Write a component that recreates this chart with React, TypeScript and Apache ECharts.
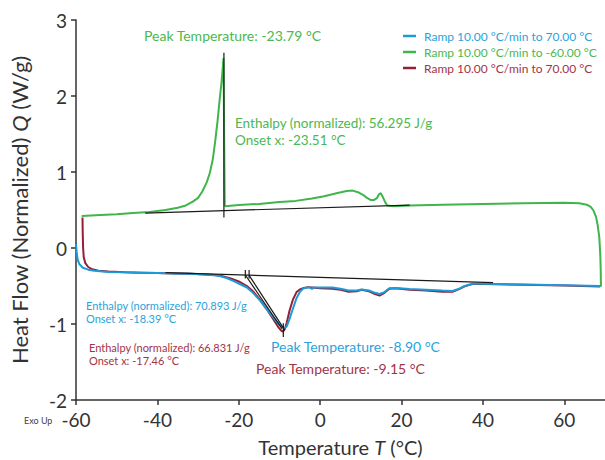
import React, { useEffect, useRef } from "react";
import * as echarts from "echarts";

const FONT = "Lato, 'Noto Sans', sans-serif";

// Series names / legend labels
const seriesLabels = [
  "Ramp 10.00 °C/min to 70.00 °C",
  "Ramp 10.00 °C/min to -60.00 °C",
  "Ramp 10.00 °C/min to 70.00 °C",
];
const seriesIds = ["heat1", "cool", "heat2"];

const xTicks = [-60, -40, -20, 0, 20, 40, 60];
const yTicks = [-2, -1, 0, 1, 2, 3];

// First heating ramp (blue): [T °C, Q W/g]
const heat1: [number, number][] = [
  [-60, 0.05], [-59.85, -0.05], [-59.6, -0.15], [-59.2, -0.21], [-58.3, -0.26],
  [-57, -0.285], [-55.5, -0.3], [-52, -0.315], [-48, -0.32], [-44, -0.325],
  [-40, -0.33], [-36, -0.335], [-32, -0.34], [-29, -0.35], [-26, -0.36],
  [-24.7, -0.37], [-23, -0.395], [-21.5, -0.43], [-19.5, -0.48], [-18, -0.52],
  [-16.5, -0.59], [-14.8, -0.69], [-13.2, -0.8], [-11.6, -0.91], [-10.2, -1.0],
  [-9.2, -1.045], [-8.7, -1.055], [-8.2, -1.03], [-7.5, -0.93], [-6.7, -0.8],
  [-5.8, -0.66], [-5, -0.58], [-4.2, -0.535], [-3.3, -0.52], [-2.5, -0.52],
  [-2.0, -0.54], [-1.6, -0.52], [0, -0.52], [3, -0.52], [5, -0.535], [7, -0.56],
  [9, -0.56], [10.2, -0.545], [12, -0.56], [13.5, -0.59], [14.6, -0.605],
  [15.8, -0.58], [17, -0.53], [18.5, -0.525], [22, -0.54], [26, -0.55],
  [30, -0.56], [32.5, -0.565], [34, -0.54], [35.5, -0.5], [37.4, -0.47],
  [40, -0.47], [50, -0.48], [60, -0.49], [68.8, -0.5],
];

// Cooling ramp (green)
const cool: [number, number][] = [
  [69.0, -0.51], [68.95, -0.3], [68.85, -0.1], [68.6, 0.14], [68.2, 0.3],
  [67.8, 0.41], [67.2, 0.49], [66.5, 0.54], [65.5, 0.57], [63.7, 0.59],
  [60, 0.595], [50, 0.59], [40, 0.58], [30, 0.57], [22, 0.56], [18, 0.55],
  [16.5, 0.56], [16.0, 0.6], [15.5, 0.66], [14.9, 0.72], [14.5, 0.71],
  [14.0, 0.66], [13.2, 0.63], [12.5, 0.63], [11.5, 0.66], [10.5, 0.7],
  [9.5, 0.73], [8, 0.755], [6.5, 0.75], [4, 0.72], [1, 0.68], [-2, 0.65],
  [-6, 0.62], [-10, 0.605], [-15, 0.58], [-20, 0.565], [-23.3, 0.55],
  [-23.45, 0.56], [-23.6, 1.5], [-23.75, 2.5], [-24.2, 2.2], [-24.7, 1.95],
  [-25.2, 1.68], [-25.8, 1.4], [-26.4, 1.16], [-27.1, 0.99], [-27.9, 0.86],
  [-29, 0.74], [-30, 0.66], [-31.3, 0.61], [-33, 0.56], [-35, 0.53],
  [-38, 0.5], [-42, 0.475], [-46, 0.46], [-50, 0.445], [-54, 0.435],
  [-58.6, 0.42],
];

// Second heating ramp (dark red)
const heat2: [number, number][] = [
  [-58.4, 0.4], [-58.35, 0.2], [-58.25, 0.0], [-58.1, -0.12], [-57.7, -0.2],
  [-57, -0.25], [-56, -0.28], [-54.5, -0.3], [-52, -0.31], [-48, -0.32],
  [-44, -0.325], [-40, -0.33], [-36, -0.335], [-32, -0.34], [-29, -0.345],
  [-26, -0.355], [-24, -0.37], [-22, -0.4], [-20, -0.44], [-18, -0.5],
  [-16.5, -0.57], [-14.8, -0.68], [-13.2, -0.8], [-11.6, -0.93], [-10.3, -1.04],
  [-9.5, -1.09], [-9.15, -1.1], [-8.7, -1.07], [-8.2, -0.98], [-7.5, -0.82],
  [-6.7, -0.68], [-5.8, -0.58], [-5, -0.545], [-4, -0.525], [-3, -0.515],
  [-2, -0.52], [0, -0.53], [3, -0.535], [5, -0.55], [7, -0.575], [9, -0.57],
  [10.2, -0.55], [12, -0.57], [13.5, -0.605], [14.6, -0.625], [15.8, -0.59],
  [17, -0.535], [18.5, -0.53], [22, -0.55], [26, -0.56], [30, -0.575],
  [32.5, -0.575], [34, -0.545], [35.5, -0.505], [37.4, -0.475], [40, -0.475],
  [50, -0.485], [60, -0.495], [68.8, -0.505],
];

// Analysis construction lines (black)
const heatBaseline: [number, number][] = [[-38, -0.325], [42.5, -0.455]];
const coolBaseline: [number, number][] = [[-43, 0.46], [22, 0.565]];
const coolPeakDrop: [number, number][] = [[-23.65, 2.57], [-23.65, 0.4]];
const blueTangent: [number, number][] = [[-18.39, -0.355], [-9.4, -1.06]];
const redTangent: [number, number][] = [[-17.46, -0.36], [-8.7, -1.08]];
const blueOnsetTick: [number, number][] = [[-18.39, -0.29], [-18.39, -0.4]];
const redOnsetTick: [number, number][] = [[-17.46, -0.29], [-17.46, -0.4]];
const peakTick: [number, number][] = [[-9.05, -0.99], [-9.05, -1.17]];

const BLUE = "#1d9ad8";
const GREEN = "#3fb54b";
const RED = "#951f35";
const BLUE_T = "#2aa3dd";
const GREEN_T = "#4cb850";
const RED_T = "#a23446";

export default function App() {
  const ref = useRef<HTMLDivElement>(null);
  useEffect(() => {
    if (!ref.current) return;
    const chart = echarts.init(ref.current, null, { renderer: "svg" });
    const blackLines = [
      heatBaseline, coolBaseline, coolPeakDrop, blueTangent, redTangent,
      blueOnsetTick, redOnsetTick, peakTick,
    ].map((d, i) => ({
      id: "construct" + i,
      type: "line" as const,
      data: d,
      symbol: "none",
      silent: true,
      z: 5,
      lineStyle: { color: "#1a1a1a", width: 1.2 },
    }));
    const colorMap: Record<string, string> = { heat1: BLUE, cool: GREEN, heat2: RED };
    const textColorMap: Record<string, string> = { heat1: BLUE_T, cool: GREEN_T, heat2: RED_T };
    const labelMap: Record<string, string> = {
      heat1: seriesLabels[0], cool: seriesLabels[1], heat2: seriesLabels[2],
    };
    const option: any = {
      animation: false,
      textStyle: { fontFamily: FONT },
      grid: { left: 76, right: 0, top: 20, bottom: 60, containLabel: false, outerBoundsMode: "none" },
      legend: {
        orient: "vertical",
        left: 398,
        top: 23,
        icon: "rect",
        itemWidth: 13,
        itemHeight: 2.5,
        itemGap: 0,
        data: seriesIds.map((id) => ({
          name: id,
          textStyle: { color: textColorMap[id] },
        })),
        formatter: (name: string) => labelMap[name],
        textStyle: { fontFamily: FONT, fontSize: 12, lineHeight: 16, padding: [0, 0, 0, 3] },
      },
      xAxis: {
        type: "value",
        min: -60,
        max: 70,
        interval: 20,
        name: "Temperature {i|T} (°C)",
        nameLocation: "middle",
        nameGap: 37,
        nameTextStyle: {
          fontFamily: FONT, fontSize: 20, color: "#333",
          rich: { i: { fontStyle: "italic", fontFamily: FONT, fontSize: 20, color: "#333" } },
        },
        axisLine: { onZero: false, lineStyle: { color: "#333", width: 1.5 } },
        axisTick: { length: 5, lineStyle: { color: "#333", width: 1.5 }, customValues: xTicks },
        axisLabel: { fontFamily: FONT, fontSize: 19, color: "#333", margin: 10, customValues: xTicks },
        splitLine: { show: false },
      },
      yAxis: {
        type: "value",
        min: -2,
        max: 3,
        interval: 1,
        name: "Heat Flow (Normalized) {i|Q} (W/g)",
        nameLocation: "middle",
        nameGap: 46,
        nameRotate: 90,
        nameTextStyle: {
          fontFamily: FONT, fontSize: 22, color: "#333",
          rich: { i: { fontStyle: "italic", fontFamily: FONT, fontSize: 22, color: "#333" } },
        },
        axisLine: { show: true, onZero: false, lineStyle: { color: "#333", width: 1.5 } },
        axisTick: { show: true, length: 5, lineStyle: { color: "#333", width: 1.5 }, customValues: yTicks },
        axisLabel: { fontFamily: FONT, fontSize: 19, color: "#333", margin: 9, customValues: yTicks },
        splitLine: { show: false },
      },
      series: [
        ...[
          { id: "cool", data: cool },
          { id: "heat2", data: heat2 },
          { id: "heat1", data: heat1 },
        ].map((s) => ({
          id: s.id,
          name: s.id,
          type: "line" as const,
          data: s.data,
          symbol: "none",
          z: 3,
          lineStyle: { color: colorMap[s.id], width: 2 },
          itemStyle: { color: colorMap[s.id] },
        })),
        ...blackLines,
      ],
      graphic: [
        { type: "text", left: 24, top: 416, style: { text: "Exo Up", fill: "#444", font: `9px ${FONT}` } },
        { type: "text", left: 144, top: 28, style: { text: "Peak Temperature: -23.79 °C", fill: GREEN_T, font: `14px ${FONT}` } },
        {
          type: "text", left: 235, top: 115,
          style: {
            text: "Enthalpy (normalized): 56.295 J/g\nOnset x: -23.51 °C",
            fill: GREEN_T, font: `13.5px ${FONT}`, lineHeight: 16.5,
          },
        },
        {
          type: "text", left: 86, top: 299,
          style: {
            text: "Enthalpy (normalized): 70.893 J/g\nOnset x: -18.39 °C",
            fill: BLUE_T, font: `11px ${FONT}`, lineHeight: 13,
          },
        },
        {
          type: "text", left: 89, top: 341,
          style: {
            text: "Enthalpy (normalized): 66.831 J/g\nOnset x: -17.46 °C",
            fill: RED_T, font: `11px ${FONT}`, lineHeight: 13,
          },
        },
        { type: "text", left: 271, top: 339, style: { text: "Peak Temperature: -8.90 °C", fill: BLUE_T, font: `14px ${FONT}` } },
        { type: "text", left: 256, top: 361, style: { text: "Peak Temperature: -9.15 °C", fill: RED_T, font: `14px ${FONT}` } },
      ],
    };
    chart.setOption(option);
    return () => chart.dispose();
  }, []);
  return (
    <div
      ref={ref}
      style={{ position: "fixed", left: 0, top: 0, width: 605, height: 460, background: "#fff" }}
    />
  );
}
